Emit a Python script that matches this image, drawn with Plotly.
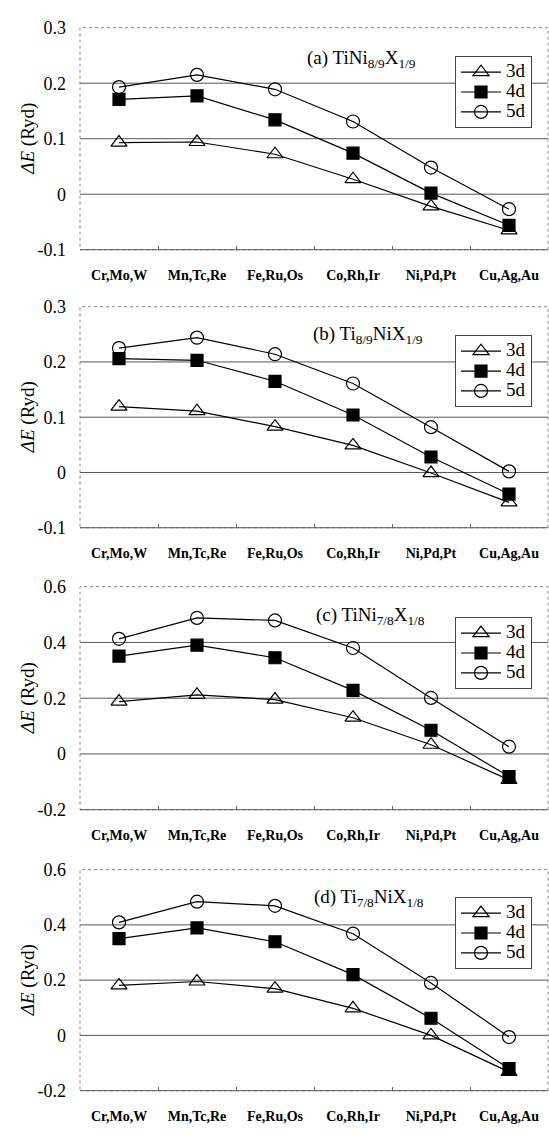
import plotly.graph_objects as go

categories = ["Cr,Mo,W", "Mn,Tc,Re", "Fe,Ru,Os", "Co,Rh,Ir", "Ni,Pd,Pt", "Cu,Ag,Au"]
series_names = ["3d", "4d", "5d"]

# (a) TiNi8/9X1/9
a_3d = [0.093, 0.094, 0.072, 0.027, -0.022, -0.065]
a_4d = [0.171, 0.177, 0.134, 0.074, 0.002, -0.056]
a_5d = [0.193, 0.215, 0.189, 0.131, 0.048, -0.027]
# (b) Ti8/9NiX1/9
b_3d = [0.119, 0.111, 0.083, 0.049, -0.001, -0.054]
b_4d = [0.206, 0.203, 0.165, 0.104, 0.028, -0.039]
b_5d = [0.225, 0.244, 0.214, 0.161, 0.082, 0.002]
# (c) TiNi7/8X1/8
c_3d = [0.188, 0.212, 0.195, 0.130, 0.033, -0.093]
c_4d = [0.351, 0.390, 0.345, 0.228, 0.085, -0.081]
c_5d = [0.413, 0.488, 0.479, 0.380, 0.201, 0.026]
# (d) Ti7/8NiX1/8
d_3d = [0.181, 0.195, 0.169, 0.098, 0.000, -0.132]
d_4d = [0.350, 0.389, 0.339, 0.220, 0.062, -0.120]
d_5d = [0.409, 0.484, 0.469, 0.368, 0.190, -0.006]

titles = ["(a) TiNi<sub>8/9</sub>X<sub>1/9</sub>",
          "(b) Ti<sub>8/9</sub>NiX<sub>1/9</sub>",
          "(c) TiNi<sub>7/8</sub>X<sub>1/8</sub>",
          "(d) Ti<sub>7/8</sub>NiX<sub>1/8</sub>"]

ticks_small = [-0.1, 0, 0.1, 0.2, 0.3]
ticks_small_text = ["-0.1", "0", "0.1", "0.2", "0.3"]
ticks_large = [-0.2, 0, 0.2, 0.4, 0.6]
ticks_large_text = ["-0.2", "0", "0.2", "0.4", "0.6"]

panels = [
    ([a_3d, a_4d, a_5d], ticks_small, ticks_small_text),
    ([b_3d, b_4d, b_5d], ticks_small, ticks_small_text),
    ([c_3d, c_4d, c_5d], ticks_large, ticks_large_text),
    ([d_3d, d_4d, d_5d], ticks_large, ticks_large_text),
]

W, H = 549, 1138
FONT = "Liberation Serif"
tops = [18, 302, 587, 875]
bots = [244, 527, 814, 1100]
title_y = [50, 331, 617, 904]
title_x = [305, 311, 314, 312]
legend_top = [47, 331, 618, 903]
x_left, x_right = 80, 548

def py(p):
    return 1 - p / H

symbols = ["triangle-up-open", "square", "circle-open"]
msizes = [14, 12, 13]

fig = go.Figure()
shapes = []
annotations = []
for i, (series, tv, tt) in enumerate(panels):
    n = i + 1
    xa = "x" if n == 1 else f"x{n}"
    ya = "y" if n == 1 else f"y{n}"
    lg = "legend" if n == 1 else f"legend{n}"
    for s, name, sym, ms in zip(series, series_names, symbols, msizes):
        fig.add_trace(go.Scatter(
            x=categories, y=s,
            name=f"<span style='font-size:19px'>{name}</span>",
            mode="lines+markers",
            xaxis=xa, yaxis=ya, legend=lg,
            line=dict(color="black", width=1.2),
            marker=dict(symbol=sym, size=ms, color="black",
                        line=dict(color="black", width=1.2)),
        ))
    axx = dict(
        domain=[x_left / W, x_right / W], anchor=ya, type="category",
        categoryorder="array", categoryarray=categories,
        range=[-0.5, 5.5], showgrid=False, zeroline=False, showline=False,
        ticks="inside", tickson="boundaries", ticklen=4, tickcolor="#666",
        tickfont=dict(family=FONT, size=14, color="black", weight="bold"),
        ticklabelstandoff=15,
    )
    axy = dict(
        domain=[py(bots[i]), py(tops[i])], anchor=xa,
        range=[tv[0], tv[-1]], tickvals=tv, ticktext=tt,
        showgrid=False, zeroline=False, showline=False, ticks="",
        tickfont=dict(family=FONT, size=18, color="black"),
        ticklabelstandoff=13,
    )
    fig.update_layout(**{("xaxis" if n == 1 else f"xaxis{n}"): axx,
                         ("yaxis" if n == 1 else f"yaxis{n}"): axy})
    for v in tv[1:-1]:
        shapes.append(dict(type="line", xref=f"{xa} domain", yref=ya,
                           x0=0, x1=1, y0=v, y1=v,
                           line=dict(color="#555", width=1), layer="below"))
    shapes.append(dict(type="rect", xref=f"{xa} domain", yref=f"{ya} domain",
                       x0=0, x1=1, y0=0, y1=1,
                       line=dict(color="#888", width=1, dash="dot"), layer="below"))
    shapes.append(dict(type="line", xref=f"{xa} domain", yref=f"{ya} domain",
                       x0=0, x1=1, y0=0, y1=0,
                       line=dict(color="#555", width=1), layer="below"))
    annotations.append(dict(text=titles[i], xref="paper", yref="paper",
                            x=title_x[i] / W, y=py(title_y[i]),
                            xanchor="left", yanchor="middle", showarrow=False,
                            font=dict(family=FONT, size=19, color="black")))
    annotations.append(dict(text="<i>ΔE</i> (Ryd)", xref="paper", yref="paper",
                            x=28 / W, y=py((tops[i] + bots[i]) / 2),
                            xanchor="center", yanchor="middle", textangle=-90,
                            showarrow=False,
                            font=dict(family=FONT, size=19, color="black")))
    fig.update_layout(**{lg: dict(
        x=532 / W, y=py(legend_top[i]), xanchor="right", yanchor="top",
        bgcolor="white", bordercolor="#444", borderwidth=1,
        font=dict(family=FONT, size=13, color="black"),
        tracegroupgap=0, itemwidth=40,
    )})

fig.update_layout(
    width=W, height=H, margin=dict(l=0, r=0, t=0, b=0),
    paper_bgcolor="white", plot_bgcolor="white",
    shapes=shapes, annotations=annotations, showlegend=True,
)

fig.write_html("out.html", config={"displayModeBar": False},
               post_script="document.body.style.margin='0';document.body.style.overflow='hidden';")
